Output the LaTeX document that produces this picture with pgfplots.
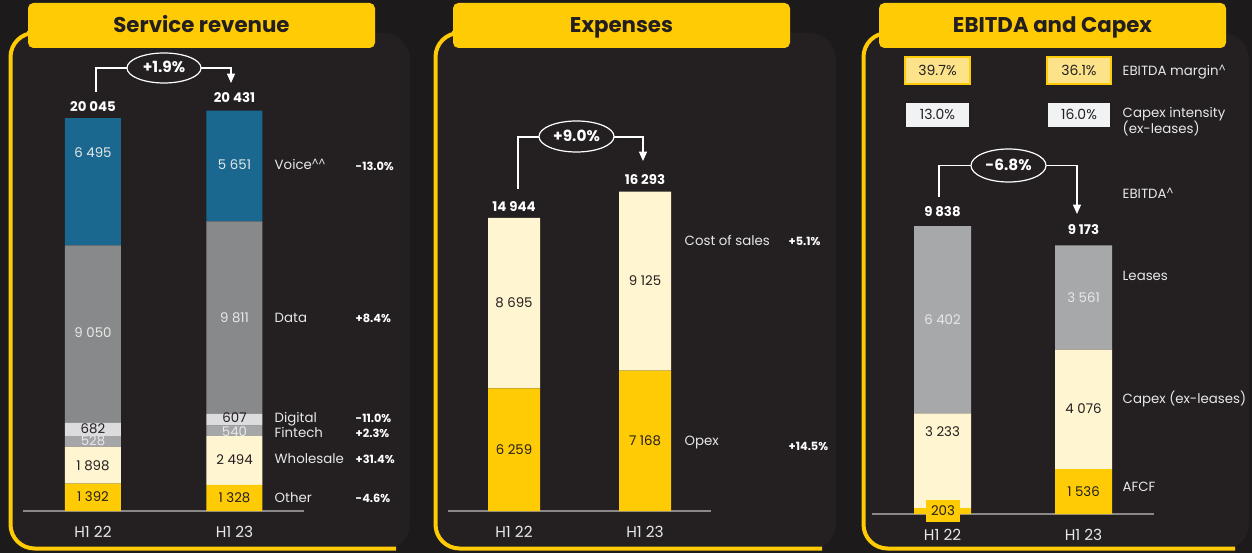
\documentclass[border=0pt]{standalone}
\usepackage{pgfplots}
\pgfplotsset{compat=1.18}
\usepackage{fontspec}
\setmainfont{Poppins}
\usetikzlibrary{arrows.meta,shapes.geometric}
\definecolor{bg}{HTML}{1D1A1B}
\definecolor{panel}{HTML}{242021}
\definecolor{ylw}{HTML}{FFCB05}
\definecolor{voiceblue}{HTML}{1A6890}
\definecolor{datagrey}{HTML}{88898B}
\definecolor{digital}{HTML}{DCDCDE}
\definecolor{fintech}{HTML}{A5A6A8}
\definecolor{cream}{HTML}{FFF5D0}
\definecolor{leases}{HTML}{A7A8AA}
\definecolor{axisgrey}{HTML}{8A8787}
\definecolor{dark}{HTML}{231F20}
\definecolor{lightt}{HTML}{E8E8E8}
\definecolor{boxy}{HTML}{FCE38A}
\definecolor{boxg}{HTML}{F1F2F4}
\pgfplotsset{myax/.style={scale only axis, ybar stacked, ymin=0,
  axis x line*=bottom, axis y line=none, ytick=\empty,
  xtick={0,1}, xticklabels={H1 22,H1 23}, major tick length=0pt,
  x axis line style={draw=axisgrey, line width=0.9pt},
  ticklabel style={font=\fontsize{11.5}{13}\selectfont, text=lightt},
  xticklabel style={yshift=-9pt, text height=0.7em, text depth=0pt}, clip=false,
  every axis plot/.append style={draw=none}}}
\tikzset{
  every node/.append style={text height=0.7em, text depth=0pt},
  val/.style={font=\fontsize{10}{12}\selectfont, text=dark},
  valw/.style={font=\fontsize{10}{12}\selectfont, text=lightt},
  bval/.style={font=\fontsize{10.5}{12}\selectfont, text=dark},
  tot/.style={font=\bfseries\fontsize{10}{12}\selectfont, text=white},
  lab/.style={font=\fontsize{10}{12}\selectfont, text=lightt, anchor=west},
  pct/.style={font=\bfseries\fontsize{8.5}{10}\selectfont, text=white, anchor=west},
  ttl/.style={font=\bfseries\fontsize{16}{18}\selectfont, text=dark},
  brk/.style={white, line width=0.9pt},
  arr/.style={white, line width=0.9pt, -{Triangle[width=6pt,length=7pt]}},
  ell/.style={white, line width=0.9pt, fill=panel},
  elt/.style={font=\bfseries\fontsize{11.5}{13}\selectfont, text=white}
}
\newcommand{\crt}{\raisebox{0.2em}{\fontsize{8}{9}\selectfont\textasciicircum}}
\begin{document}
\begin{tikzpicture}[x=0.75pt,y=0.75pt]
\fill[bg] (0,0) rectangle (1252,553);
\coordinate (A1) at (23,42);
\coordinate (A2) at (448,42);
\coordinate (A3) at (872,39);
% panels
\foreach \L/\R in {9/410, 434/836, 862/1249}{
  \fill[panel, rounded corners=20pt] (\L,3) rectangle (\R,520);
  \draw[ylw, line width=3pt, rounded corners=18pt] (\L+18,520) -- (\L+1.5,520) -- (\L+1.5,4.5) -- (\R-14,4.5);
}
% title boxes
\fill[ylw, rounded corners=4pt] (28,505) rectangle (375,550);
\node[ttl] at (201.5,525) {Service revenue};
\fill[ylw, rounded corners=4pt] (453,505) rectangle (790,550);
\node[ttl] at (621.5,525) {Expenses};
\fill[ylw, rounded corners=4pt] (879,505) rectangle (1226,550);
\node[ttl] at (1052.5,525) {EBITDA and Capex};

% ---------- Panel 1: Service revenue ----------
\begin{axis}[myax, at={(A1)}, anchor=south west,
  width=210.75pt, height=323.4pt, ymax=22000,
  xmin=-0.4947, xmax=1.4912, bar width=42pt]
\addplot[fill=ylw] coordinates {(0,1392) (1,1328)};
\addplot[fill=cream] coordinates {(0,1898) (1,2494)};
\addplot[fill=fintech] coordinates {(0,528) (1,540)};
\addplot[fill=digital] coordinates {(0,682) (1,607)};
\addplot[fill=datagrey] coordinates {(0,9050) (1,9811)};
\addplot[fill=voiceblue] coordinates {(0,6495) (1,5651)};
\end{axis}
\node[valw] at (93,553-153) {6 495};
\node[valw] at (93,553-333) {9 050};
\node[val]  at (93,553-429) {682};
\node[valw] at (93,553-441) {528};
\node[val]  at (93,553-466) {1 898};
\node[val]  at (93,553-497) {1 392};
\node[valw] at (234.5,553-165) {5 651};
\node[valw] at (234.5,553-318) {9 811};
\node[val]  at (234.5,553-418) {607};
\node[valw] at (234.5,553-432) {540};
\node[val]  at (234.5,553-460) {2 494};
\node[val]  at (234.5,553-498) {1 328};
\node[tot] at (93,553-107) {20 045};
\node[tot] at (234.5,553-97.5) {20 431};
\draw[brk] (96,553-92) -- (96,553-68) -- (127,553-68);
\draw[arr] (201,553-68) -- (231,553-68) -- (231,553-83);
\draw[ell] (164,553-68) ellipse [x radius=37, y radius=15];
\node[elt] at (164,553-68) {+1.9\%};
\node[lab] at (270,553-165) {Voice\crt\crt};
\node[pct] at (351,553-166) {-13.0\%};
\node[lab] at (270,553-318) {Data};
\node[pct] at (351,553-318) {+8.4\%};
\node[lab] at (270,553-418) {Digital};
\node[pct] at (351,553-418) {-11.0\%};
\node[lab] at (270,553-433) {Fintech};
\node[pct] at (351,553-433) {+2.3\%};
\node[lab] at (270,553-459) {Wholesale};
\node[pct] at (351,553-459) {+31.4\%};
\node[lab] at (270,553-498) {Other};
\node[pct] at (351,553-498) {-4.6\%};

% ---------- Panel 2: Expenses ----------
\begin{axis}[myax, at={(A2)}, anchor=south west,
  width=197.25pt, height=323.4pt, ymax=22000,
  xmin=-0.5038, xmax=1.5038, bar width=39pt]
\addplot[fill=ylw] coordinates {(0,6259) (1,7168)};
\addplot[fill=cream] coordinates {(0,8695) (1,9125)};
\end{axis}
\node[val] at (514,553-303) {8 695};
\node[val] at (514,553-450) {6 259};
\node[val] at (645,553-281) {9 125};
\node[val] at (645,553-441) {7 168};
\node[tot] at (514,553-207) {14 944};
\node[tot] at (645,553-180) {16 293};
\draw[brk] (518,553-189) -- (518,553-137) -- (539,553-137);
\draw[arr] (614,553-137) -- (643,553-137) -- (643,553-161);
\draw[ell] (576.5,553-136.5) ellipse [x radius=37.5, y radius=15.5];
\node[elt] at (576.5,553-136.5) {+9.0\%};
\node[lab] at (680,553-241) {Cost of sales};
\node[pct] at (784,553-241) {+5.1\%};
\node[lab] at (680,553-441) {Opex};
\node[pct] at (784,553-446) {+14.5\%};

% ---------- Panel 3: EBITDA and Capex ----------
\begin{axis}[myax, at={(A3)}, anchor=south west,
  width=211.5pt, height=241.5pt, ymax=11000,
  xmin=-0.5, xmax=1.5, bar width=42.75pt]
\addplot[fill=ylw] coordinates {(0,203) (1,1536)};
\addplot[fill=cream] coordinates {(0,3233) (1,4076)};
\addplot[fill=leases] coordinates {(0,6402) (1,3561)};
\end{axis}
\fill[ylw] (926,553-522) rectangle (960,553-500);
\node[val] at (943,553-511) {203};
\node[valw] at (942.5,553-320) {6 402};
\node[val]  at (942.5,553-432) {3 233};
\node[valw] at (1083.5,553-298) {3 561};
\node[val]  at (1083.5,553-409) {4 076};
\node[val]  at (1083.5,553-492) {1 536};
\node[tot] at (942.5,553-211.5) {9 838};
\node[tot] at (1083.5,553-229.5) {9 173};
\draw[brk] (939,553-197) -- (939,553-165.5) -- (971,553-165.5);
\draw[arr] (1046,553-165.5) -- (1077,553-165.5) -- (1077,553-214);
\draw[ell] (1008.5,553-165.5) ellipse [x radius=37.5, y radius=16.5];
\node[elt] at (1008.5,553-165.5) {-6.8\%};
\draw[ylw, fill=boxy, line width=1pt] (905,553-84) rectangle (970,553-57);
\node[bval] at (937.5,553-70.5) {39.7\%};
\draw[ylw, fill=boxy, line width=1pt] (1047,553-84) rectangle (1111,553-57);
\node[bval] at (1079,553-70.5) {36.1\%};
\draw[dark, fill=boxg, line width=1pt] (905,553-128) rectangle (970,553-102);
\node[bval] at (937.5,553-115) {13.0\%};
\draw[dark, fill=boxg, line width=1pt] (1047,553-128) rectangle (1111,553-102);
\node[bval] at (1079,553-115) {16.0\%};
\node[lab] at (1118,553-71) {EBITDA margin\crt};
\node[lab] at (1118,553-113) {Capex intensity};
\node[lab] at (1118,553-129) {(ex-leases)};
\node[lab] at (1118,553-194) {EBITDA\crt};
\node[lab] at (1118,553-276) {Leases};
\node[lab] at (1118,553-399) {Capex (ex-leases)};
\node[lab] at (1118,553-487) {AFCF};
\end{tikzpicture}
\end{document}
